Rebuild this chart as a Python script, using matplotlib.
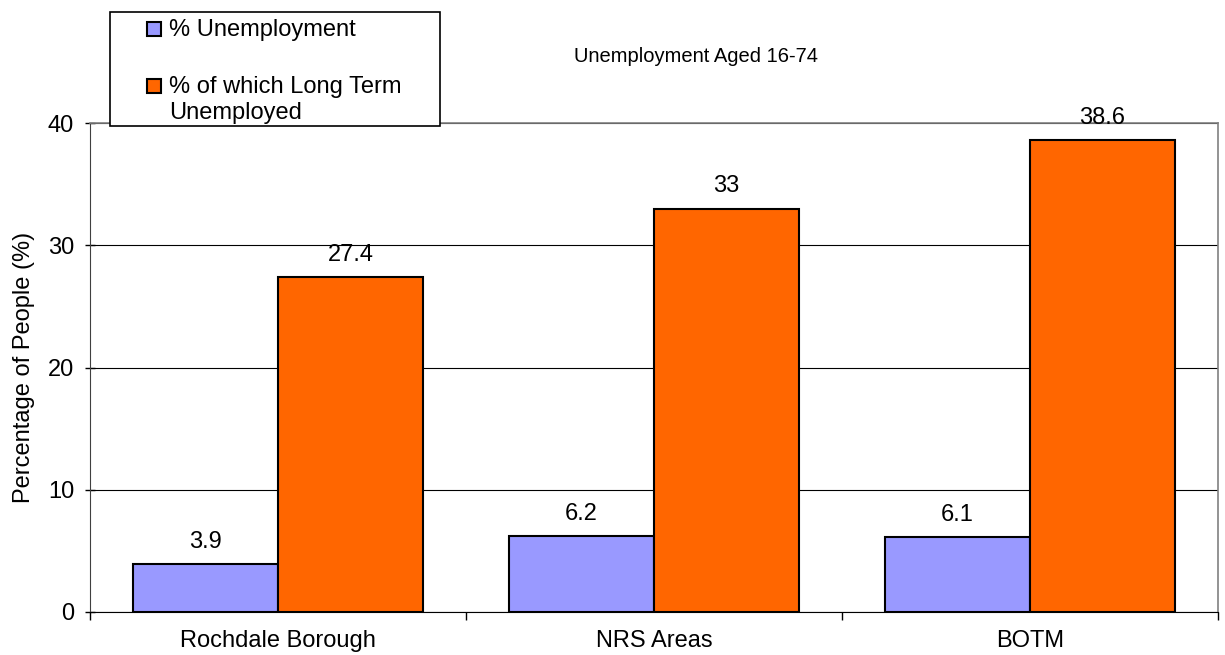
import matplotlib
matplotlib.use('Agg')
import matplotlib.pyplot as plt
from matplotlib.patches import Rectangle
import numpy as np

plt.rcParams['font.family'] = ['Liberation Sans', 'DejaVu Sans']

# data
categories = ['Rochdale Borough', 'NRS Areas', 'BOTM']
series = ['% Unemployment', '% of which Long Term\nUnemployed']
unemployment = [3.9, 6.2, 6.1]
long_term = [27.4, 33, 38.6]
colors = ['#9999FF', '#FF6600']
yticks = [0, 10, 20, 30, 40]

W, H = 1225, 655
FS = 17
fig = plt.figure(figsize=(W / 100, H / 100), dpi=100)
ax = fig.add_axes([90 / W, 43 / H, (1218 - 90) / W, (612 - 123) / H])

x = np.arange(len(categories))
w = 0.386
b1 = ax.bar(x - w / 2, unemployment, w, color=colors[0], edgecolor='black', linewidth=1.5, zorder=3)
b2 = ax.bar(x + w / 2, long_term, w, color=colors[1], edgecolor='black', linewidth=1.5, zorder=3)

for bars, vals in [(b1, unemployment), (b2, long_term)]:
    for r, v in zip(bars, vals):
        ax.annotate(f'{v:g}', (r.get_x() + r.get_width() / 2, v),
                    xytext=(0, 8), textcoords='offset points',
                    ha='center', va='bottom', fontsize=FS)

ax.set_xlim(-0.5, len(categories) - 0.5)
ax.set_ylim(0, 40)
ax.set_yticks(yticks)
ax.tick_params(axis='y', labelsize=FS, direction='inout', length=7, pad=8, width=1)
ax.set_xticks(x)
ax.set_xticklabels(categories, fontsize=FS)
ax.tick_params(axis='x', which='major', length=0, pad=13)
ax.set_xticks(np.arange(len(categories) + 1) - 0.5, minor=True)
ax.tick_params(axis='x', which='minor', length=6, width=1, direction='out')
ax.set_ylabel('Percentage of People (%)', fontsize=FS, labelpad=9)

ax.yaxis.grid(True, color='black', linewidth=0.8)
ax.set_axisbelow(True)
ax.spines['left'].set_color('#404040')
ax.spines['bottom'].set_color('black')
for s in ['top', 'right']:
    ax.spines[s].set_color('#808080')
    ax.spines[s].set_linewidth(1.2)

# chart title
fig.text(696 / W, 1 - 56 / H, 'Unemployment Aged 16-74', ha='center', va='center', fontsize=14.5)

# legend box (drawn by hand to keep the squares next to the first line)
fig.add_artist(Rectangle((110 / W, 1 - 126 / H), 330 / W, 114 / H, transform=fig.transFigure,
                         facecolor='white', edgecolor='black', linewidth=1.2, zorder=10))
for i, (lab, col) in enumerate(zip(series, colors)):
    cy = [29, 86][i]
    fig.add_artist(Rectangle((147 / W, 1 - (cy + 7) / H), 14 / W, 14 / H, transform=fig.transFigure,
                             facecolor=col, edgecolor='black', linewidth=1.5, zorder=11))
    fig.text(169 / W, 1 - (cy - 10) / H, lab, ha='left', va='top', fontsize=FS,
             linespacing=1.25, zorder=11)

fig.savefig('out.png', dpi=100, facecolor='white')
